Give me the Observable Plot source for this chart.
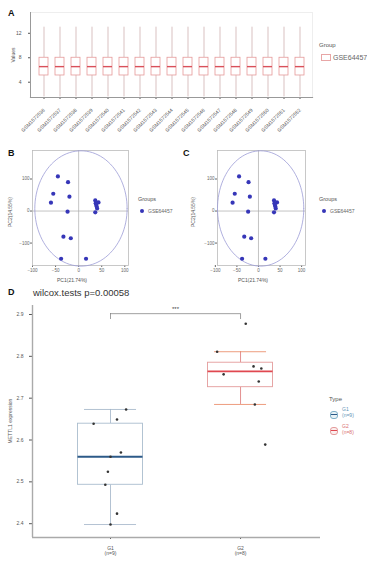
<!DOCTYPE html>
<html><head><meta charset="utf-8">
<script src="https://cdn.jsdelivr.net/npm/d3@7"></script>
<script src="https://cdn.jsdelivr.net/npm/@observablehq/plot@0.6"></script>
<style>
body{margin:0;background:#fff;font-family:"Liberation Sans",Arial,sans-serif;}
#wrap{position:relative;width:367px;height:563px;overflow:hidden;background:#fff;}
.abs{position:absolute;white-space:nowrap;line-height:1;color:#444;}
</style></head><body><div id="wrap"></div>
<script>
// ---------- Panel A data ----------
const samples = ["GSM1572536","GSM1572537","GSM1572538","GSM1572539","GSM1572540","GSM1572541","GSM1572542","GSM1572543","GSM1572544","GSM1572545","GSM1572546","GSM1572547","GSM1572548","GSM1572549","GSM1572550","GSM1572551","GSM1572552"];
const sampleMin = [1.6,1.6,1.6,1.6,1.6,1.6,1.6,1.6,1.6,1.6,1.6,1.6,1.6,1.6,1.6,1.6,1.6];
const sampleQ1  = [5.1,5.1,5.1,5.1,5.1,5.1,5.1,5.1,5.1,5.1,5.1,5.1,5.1,5.1,5.1,5.1,5.1];
const sampleMed = [6.55,6.55,6.55,6.55,6.55,6.55,6.55,6.55,6.55,6.55,6.55,6.55,6.55,6.55,6.55,6.55,6.55];
const sampleQ3  = [8.0,8.0,8.0,8.0,8.0,8.0,8.0,8.0,8.0,8.0,8.0,8.0,8.0,8.0,8.0,8.0,8.0];
const sampleMax = [13.0,13.0,13.0,13.0,13.0,13.0,13.0,13.0,13.0,13.0,13.0,13.0,13.0,13.0,13.0,13.0,13.0];
const yTicksA = [4, 8, 12];
const groupName = "GSE64457";

// ---------- Panels B & C data (PCA) ----------
const pc1 = [-45,-23,-55,-20,-60,-24,-33,-17,-38,16,36,43,38,40,36,39,37];
const pc2 = [108,90,54,45,26,-2,-80,-85,-149,-149,33,27,20,8,-4,14,24];
const ellipseCenter = [5, 8];
const ellipseRadii = [100, 180];
const pcTicksX = [-100,-50,0,50,100];
const pcTicksY = [-100,0,100];

// ---------- Panel D data ----------
const g1Values = [2.673,2.649,2.639,2.570,2.560,2.524,2.493,2.424,2.398];
const g1Jitter = [0.12,0.05,-0.13,0.08,0.0,-0.02,-0.04,0.05,0.0];
const g2Values = [2.878,2.811,2.776,2.771,2.757,2.740,2.685,2.589];
const g2Jitter = [0.04,-0.18,0.10,0.16,-0.13,0.14,0.11,0.19];
const groupLabels = ["G1\n(n=9)","G2\n(n=8)"];
const yTicksD = [2.4,2.5,2.6,2.7,2.8,2.9];
const pValueText = "wilcox.tests p=0.00058";
const sigText = "***";
const bracketY = 2.902;

const FONT = '"Liberation Sans", Arial, sans-serif';
const wrap = document.getElementById("wrap");
function addText(txt, x, y, st = {}) {
  const d = document.createElement("div");
  d.className = "abs"; d.textContent = txt;
  d.style.left = x + "px"; d.style.top = y + "px";
  Object.assign(d.style, st);
  wrap.appendChild(d); return d;
}
function addRot(txt, cx, cy, st = {}) {
  return addText(txt, cx, cy, Object.assign({transform: "translate(-50%,-50%) rotate(-90deg)"}, st));
}
function addPlot(svg, x, y) {
  svg.style.position = "absolute"; svg.style.left = x + "px"; svg.style.top = y + "px";
  wrap.appendChild(svg);
}

// ================= Panel A =================
const dataA = samples.map((s, i) => ({sample: s, min: sampleMin[i], q1: sampleQ1[i], med: sampleMed[i], q3: sampleQ3[i], max: sampleMax[i]}));
const plotA = Plot.plot({
  width: 367, height: 140, marginLeft: 30, marginRight: 55, marginTop: 12, marginBottom: 43,
  style: {fontFamily: FONT, fontSize: "5px", color: "#555", background: "transparent"},
  x: {domain: samples, paddingInner: 0.45, paddingOuter: 0.335, tickRotate: -45, tickSize: 2, label: null},
  y: {domain: [1.5, 15.4], ticks: yTicksA, tickSize: 2, label: null},
  marks: [
    Plot.frame({stroke: "#eee"}),
    Plot.ruleX(dataA, {x: "sample", y1: "q3", y2: "max", stroke: "#c8a8a8", strokeWidth: 0.7}),
    Plot.ruleX(dataA, {x: "sample", y1: "min", y2: "q1", stroke: "#c8a8a8", strokeWidth: 0.7}),
    Plot.barY(dataA, {x: "sample", y1: "q1", y2: "q3", fill: "white", stroke: "#e59a9a", strokeWidth: 0.8}),
    Plot.tickY(dataA, {x: "sample", y: "med", stroke: "#d9505a", strokeWidth: 1.4}),
    Plot.frame({anchor: "left", stroke: "#999"}),
    Plot.frame({anchor: "bottom", stroke: "#999", strokeWidth: 1.2})
  ]
});
addPlot(plotA, 0, 0);
addText("A", 8, 9, {fontWeight: "bold", fontSize: "9px", color: "#111"});
addRot("Values", 13, 55, {fontSize: "5px", color: "#555"});
addText("Group", 319, 42, {fontSize: "6px", color: "#555"});
addText("", 321, 54, {width: "8px", height: "5px", border: "0.8px solid #e8a6a6", background: "#fff"});
addText(groupName, 333, 54, {fontSize: "7px", color: "#666"});

// ================= Panels B & C =================
const pcData = pc1.map((v, i) => ({pc1: v, pc2: pc2[i]}));
const ellipsePts = d3.range(0, 101).map(k => {
  const t = 2 * Math.PI * k / 100;
  return {x: ellipseCenter[0] + ellipseRadii[0] * Math.cos(t), y: ellipseCenter[1] + ellipseRadii[1] * Math.sin(t)};
});
function pcaPlot(width, ml, mr, xdom) {
  return Plot.plot({
    width, height: 150, marginLeft: ml, marginRight: mr, marginTop: 10, marginBottom: 25,
    style: {fontFamily: FONT, fontSize: "4.5px", color: "#666", background: "transparent"},
    x: {domain: xdom, ticks: pcTicksX, tickSize: 2, tickPadding: 1, label: null},
    y: {domain: [-170, 189], ticks: pcTicksY, tickSize: 2, tickPadding: 1, label: null},
    marks: [
      Plot.frame({stroke: "#bbb", strokeWidth: 0.8}),
      Plot.ruleY([0], {stroke: "#aaa", strokeWidth: 0.7}),
      Plot.ruleX([0], {stroke: "#aaa", strokeWidth: 0.7}),
      Plot.line(ellipsePts, {x: "x", y: "y", stroke: "#9c9cd6", strokeWidth: 0.8}),
      Plot.dot(pcData, {x: "pc1", y: "pc2", r: 2.1, fill: "#3636b8", stroke: "none"})
    ]
  });
}
addPlot(pcaPlot(180, 32, 52, [-100, 108]), 0, 140);
addPlot(pcaPlot(187, 37, 62, [-95, 109]), 180, 140);
addText("B", 8, 149, {fontWeight: "bold", fontSize: "9px", color: "#111"});
addText("C", 183, 149, {fontWeight: "bold", fontSize: "9px", color: "#111"});
addText("PC1(21.74%)", 72, 280, {fontSize: "5px", color: "#555", transform: "translate(-50%,-50%)"});
addText("PC1(21.74%)", 253, 280, {fontSize: "5px", color: "#555", transform: "translate(-50%,-50%)"});
addRot("PC2(14.55%)", 10, 212, {fontSize: "5px", color: "#555"});
addRot("PC2(14.55%)", 193, 212, {fontSize: "5px", color: "#555"});
addText("Groups", 138, 197, {fontSize: "5.5px", color: "#555"});
addText("Groups", 319, 197, {fontSize: "5.5px", color: "#555"});
addText("", 140, 209, {width: "4px", height: "4px", borderRadius: "50%", background: "#3636b8"});
addText("", 322, 209, {width: "4px", height: "4px", borderRadius: "50%", background: "#3636b8"});
addText(groupName, 148, 209, {fontSize: "5px", color: "#666"});
addText(groupName, 330, 209, {fontSize: "5px", color: "#666"});

// ================= Panel D =================
function boxStats(vals) {
  const s = d3.sort(vals);
  const q1 = d3.quantile(s, 0.25), med = d3.quantile(s, 0.5), q3 = d3.quantile(s, 0.75);
  const iqr = q3 - q1;
  const lo = d3.min(s.filter(v => v >= q1 - 1.5 * iqr));
  const hi = d3.max(s.filter(v => v <= q3 + 1.5 * iqr));
  return {q1, med, q3, lo, hi};
}
const groupsD = [
  Object.assign({pos: 1, vals: g1Values, jit: g1Jitter, boxC: "#aabdce", medC: "#2c5a88", whC: "#9fb3c6", capC: "#9fb3c6"}, boxStats(g1Values)),
  Object.assign({pos: 2, vals: g2Values, jit: g2Jitter, boxC: "#e49c9c", medC: "#e04850", whC: "#dc7474", capC: "#e8845e"}, boxStats(g2Values))
];
const ptsD = groupsD.flatMap(g => g.vals.map((v, i) => ({x: g.pos + g.jit[i], y: v})));
const xDomD = [0.4, 2.615], yDomD = [2.367, 2.9215];
const BW = 0.25, CW = 0.2;
const plotD = Plot.plot({
  width: 367, height: 273, marginLeft: 32, marginRight: 47, marginTop: 15, marginBottom: 26,
  style: {fontFamily: FONT, fontSize: "5px", color: "#555", background: "transparent"},
  x: {domain: xDomD, ticks: [1, 2], tickFormat: d => groupLabels[d - 1], tickSize: 2, label: null},
  y: {domain: yDomD, ticks: yTicksD, tickFormat: d3.format(".1f"), tickSize: 3, label: null},
  marks: [
    Plot.ruleX([xDomD[0]], {stroke: "#aaa", strokeWidth: 1.4}),
    Plot.ruleY([yDomD[0]], {stroke: "#aaa", strokeWidth: 1.4}),
    Plot.ruleX(groupsD, {x: "pos", y1: "q3", y2: "hi", stroke: d => d.whC, strokeWidth: 0.8}),
    Plot.ruleX(groupsD, {x: "pos", y1: "lo", y2: "q1", stroke: d => d.whC, strokeWidth: 0.8}),
    Plot.ruleY(groupsD, {y: "hi", x1: d => d.pos - CW, x2: d => d.pos + CW, stroke: d => d.capC, strokeWidth: 0.8}),
    Plot.ruleY(groupsD, {y: "lo", x1: d => d.pos - CW, x2: d => d.pos + CW, stroke: d => d.capC, strokeWidth: 0.8}),
    Plot.rect(groupsD, {x1: d => d.pos - BW, x2: d => d.pos + BW, y1: "q1", y2: "q3", fill: "white", stroke: d => d.boxC, strokeWidth: 0.9}),
    Plot.ruleY(groupsD, {y: "med", x1: d => d.pos - BW, x2: d => d.pos + BW, stroke: d => d.medC, strokeWidth: 1.8}),
    Plot.dot(ptsD, {x: "x", y: "y", r: 1.3, fill: "#333", stroke: "none"}),
    Plot.ruleY([bracketY], {x1: 1, x2: 2, stroke: "#777", strokeWidth: 0.7}),
    Plot.ruleX([1, 2], {y1: bracketY, y2: bracketY - 0.014, stroke: "#777", strokeWidth: 0.7}),
    Plot.text([sigText], {x: 1.5, y: bracketY + 0.012, text: d => d, fontSize: 6, fill: "#444"})
  ]
});
addPlot(plotD, 0, 290);
addText("D", 8, 288, {fontWeight: "bold", fontSize: "9px", color: "#111"});
addText(pValueText, 33, 288, {fontSize: "9.5px", color: "#333"});
addRot("METTL1 expression", 10, 421, {fontSize: "5px", color: "#555"});
addText("Type", 329, 396, {fontSize: "6px", color: "#555"});
addText("", 330, 411, {width: "6px", height: "6px", borderRadius: "3px", border: "0.8px solid #7fb0c8", background: "#e8f2f6"});
addText("", 331, 414, {width: "6px", height: "1px", background: "#2c5a88"});
addText("G1", 342, 407, {fontSize: "5px", color: "#5f95b6"});
addText("(n=9)", 342, 413, {fontSize: "5px", color: "#5f95b6"});
addText("", 330, 427, {width: "6px", height: "6px", borderRadius: "3px", border: "0.8px solid #e49c9c", background: "#fbeeee"});
addText("", 331, 430, {width: "6px", height: "1px", background: "#e04850"});
addText("G2", 342, 424, {fontSize: "5px", color: "#d97070"});
addText("(n=8)", 342, 430, {fontSize: "5px", color: "#d97070"});
</script></body></html>
